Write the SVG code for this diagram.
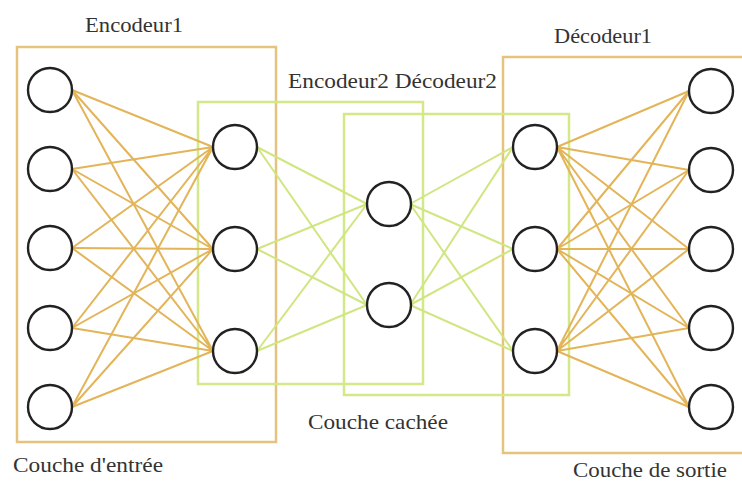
<svg xmlns="http://www.w3.org/2000/svg" width="742" height="482" viewBox="0 0 742 482">
  <style>
    .bg { fill: #ffffff; }
    .box-o { fill: none; stroke: #e5c27e; stroke-width: 2.5; }
    .box-g { fill: none; stroke: #d3e887; stroke-width: 2.5; }
    .ln-o { stroke: #e3b458; stroke-width: 2; fill: none; }
    .ln-g { stroke: #cfe681; stroke-width: 2; fill: none; }
    .node { fill: #ffffff; stroke: #222222; stroke-width: 2.4; }
    .lbl { font-family: "Liberation Serif", "Times New Roman", serif; font-size: 21px; fill: #333333; }
  </style>
  <rect class="bg" x="0" y="0" width="742" height="482"/>

  <!-- layer frames -->
  <g id="frames">
    <rect class="box-o" x="17" y="47" width="259" height="395"/>
    <rect class="box-o" x="503" y="57" width="245" height="396"/>
    <rect class="box-g" x="198" y="102" width="225" height="282"/>
    <rect class="box-g" x="344" y="114" width="225" height="281"/>
  </g>

  <!-- connectors -->
  <g id="connectors">
    <!-- input layer to encoder hidden layer -->
    <g class="ln-o">
      <path d="M72 90L213 147M72 169L213 147M72 248L213 147M72 328L213 147M72 407L213 147"/>
      <path d="M72 90L213 249M72 169L213 249M72 248L213 249M72 328L213 249M72 407L213 249"/>
      <path d="M72 90L213 351M72 169L213 351M72 248L213 351M72 328L213 351M72 407L213 351"/>
    </g>
    <!-- encoder hidden layer to code layer -->
    <g class="ln-g">
      <path d="M257 147L367 204M257 249L367 204M257 351L367 204"/>
      <path d="M257 147L367 305M257 249L367 305M257 351L367 305"/>
    </g>
    <!-- code layer to decoder hidden layer -->
    <g class="ln-g">
      <path d="M410 204L513 147M410 204L513 249M410 204L513 351"/>
      <path d="M410 305L513 147M410 305L513 249M410 305L513 351"/>
    </g>
    <!-- decoder hidden layer to output layer -->
    <g class="ln-o">
      <path d="M557 147L689 91M557 147L689 170M557 147L689 249M557 147L689 328M557 147L689 407"/>
      <path d="M557 249L689 91M557 249L689 170M557 249L689 249M557 249L689 328M557 249L689 407"/>
      <path d="M557 351L689 91M557 351L689 170M557 351L689 249M557 351L689 328M557 351L689 407"/>
    </g>
  </g>

  <!-- input layer -->
  <g id="input-layer">
    <circle class="node" cx="50" cy="90" r="22"/>
    <circle class="node" cx="50" cy="169" r="22"/>
    <circle class="node" cx="50" cy="248" r="22"/>
    <circle class="node" cx="50" cy="328" r="22"/>
    <circle class="node" cx="50" cy="407" r="22"/>
  </g>
  <!-- encoder hidden layer -->
  <g id="encoder-hidden">
    <circle class="node" cx="235" cy="147" r="22"/>
    <circle class="node" cx="235" cy="249" r="22"/>
    <circle class="node" cx="235" cy="351" r="22"/>
  </g>
  <!-- code layer -->
  <g id="code-layer">
    <circle class="node" cx="389" cy="204" r="22"/>
    <circle class="node" cx="389" cy="305" r="22"/>
  </g>
  <!-- decoder hidden layer -->
  <g id="decoder-hidden">
    <circle class="node" cx="535" cy="147" r="22"/>
    <circle class="node" cx="535" cy="249" r="22"/>
    <circle class="node" cx="535" cy="351" r="22"/>
  </g>
  <!-- output layer -->
  <g id="output-layer">
    <circle class="node" cx="711" cy="91" r="22"/>
    <circle class="node" cx="711" cy="170" r="22"/>
    <circle class="node" cx="711" cy="249" r="22"/>
    <circle class="node" cx="711" cy="328" r="22"/>
    <circle class="node" cx="711" cy="407" r="22"/>
  </g>

  <!-- labels -->
  <g id="labels">
    <text class="lbl" x="85" y="32" textLength="98" lengthAdjust="spacingAndGlyphs">Encodeur1</text>
    <text class="lbl" x="554" y="43" textLength="98" lengthAdjust="spacingAndGlyphs">Décodeur1</text>
    <text class="lbl" x="288" y="88" textLength="209" lengthAdjust="spacingAndGlyphs">Encodeur2 Décodeur2</text>
    <text class="lbl" x="308" y="429" textLength="140" lengthAdjust="spacingAndGlyphs">Couche cachée</text>
    <text class="lbl" x="13" y="472" textLength="150" lengthAdjust="spacingAndGlyphs">Couche d'entrée</text>
    <text class="lbl" x="573" y="477" textLength="154" lengthAdjust="spacingAndGlyphs">Couche de sortie</text>
  </g>
</svg>
